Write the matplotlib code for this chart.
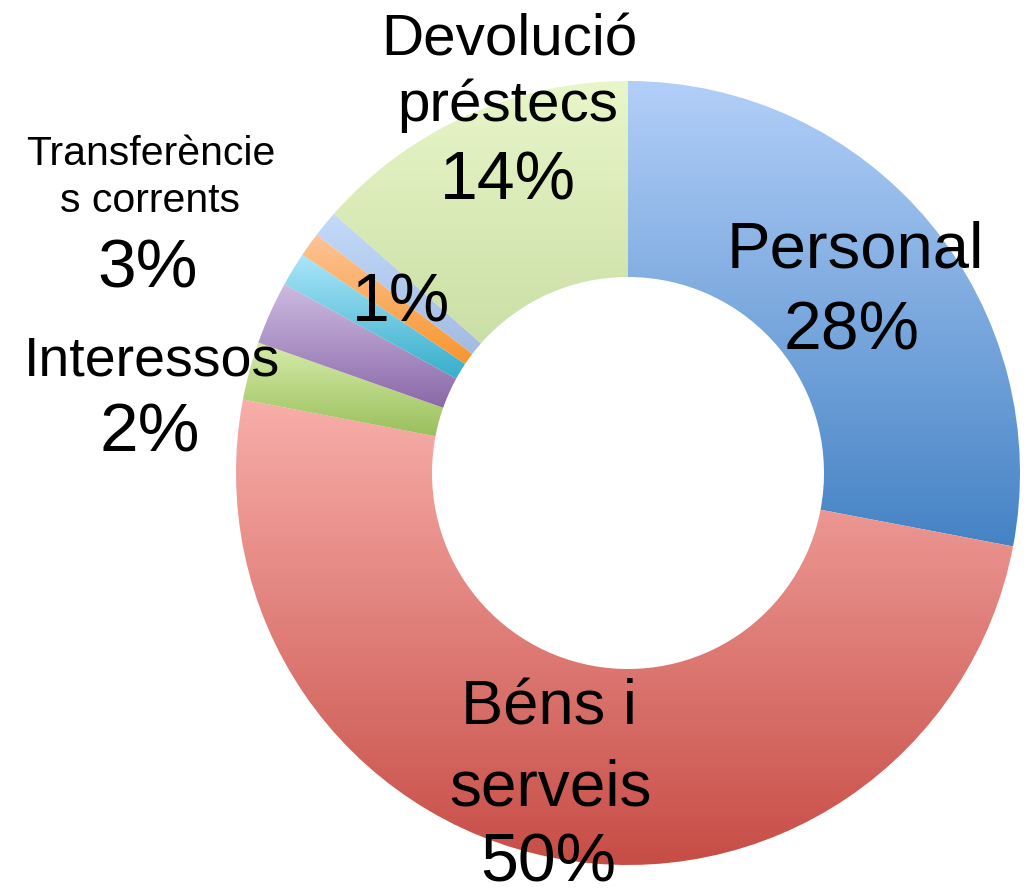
import matplotlib
matplotlib.use('Agg')
import matplotlib.pyplot as plt
import numpy as np
from matplotlib.colors import LinearSegmentedColormap

plt.rcParams['font.family'] = ['Liberation Sans', 'DejaVu Sans']

# data
categories = ['Personal', 'Béns i serveis', 'Interessos', 'Transferències corrents',
              'Altres 1', 'Altres 2', 'Altres 3', 'Devolució préstecs']
values = [28.0, 50.0, 2.4, 2.6, 1.4, 1.0, 1.1, 13.5]
top_colors = ['#b2cff8', '#f8aeaa', '#d6ecaa', '#cdbbe2', '#aae6f9', '#fdc496', '#c3daf9', '#e9f6c9']
bottom_colors = ['#4583c5', '#c74d46', '#9bbf5c', '#8a68a8', '#37aecb', '#f7962f', '#a2bbe0', '#cadfa6']

fig = plt.figure(figsize=(10.28, 8.92), dpi=100)
ax = fig.add_axes([0, 0, 1, 1])

cx, cy, R = 628, 419, 392
wedges, _ = ax.pie(values, startangle=90, counterclock=False, center=(cx, cy),
                   radius=R, wedgeprops=dict(width=R * 0.5, edgecolor='none'),
                   frame=True)

# vertical gradient in each slice
grad = np.linspace(0, 1, 256).reshape(-1, 1)
for w, c1, c2 in zip(wedges, top_colors, bottom_colors):
    w.set_facecolor('none')
    ext = w.get_path().get_extents(w.get_patch_transform())
    cmap = LinearSegmentedColormap.from_list('g', [c2, c1])
    im = ax.imshow(grad, cmap=cmap, origin='lower', aspect='auto',
                   extent=(ext.x0, ext.x1, ext.y0, ext.y1), zorder=1)
    im.set_clip_path(w)

ax.set_xlim(0, 1028)
ax.set_ylim(0, 892)
ax.set_aspect('equal')
ax.axis('off')


def lab(x, y, s, size):
    ax.text(x, 892 - y, s, fontsize=size, ha='center', va='center', color='black', zorder=5)


lab(855, 250, 'Personal', 47)
lab(852, 332, '28%', 49)
lab(549, 708, 'Béns i', 45.5)
lab(550, 788, 'serveis', 46)
lab(548, 864, '50%', 49)
lab(509, 40, 'Devolució', 42)
lab(508, 106, 'préstecs', 42)
lab(508, 182, '14%', 49)
lab(151, 154, 'Transferèncie', 29.5)
lab(150, 201, 's corrents', 29.5)
lab(148, 270, '3%', 50)
lab(152, 362, 'Interessos', 40)
lab(150, 434, '2%', 50)
lab(401, 304, '1%', 49)

fig.savefig('out.png', dpi=100)
